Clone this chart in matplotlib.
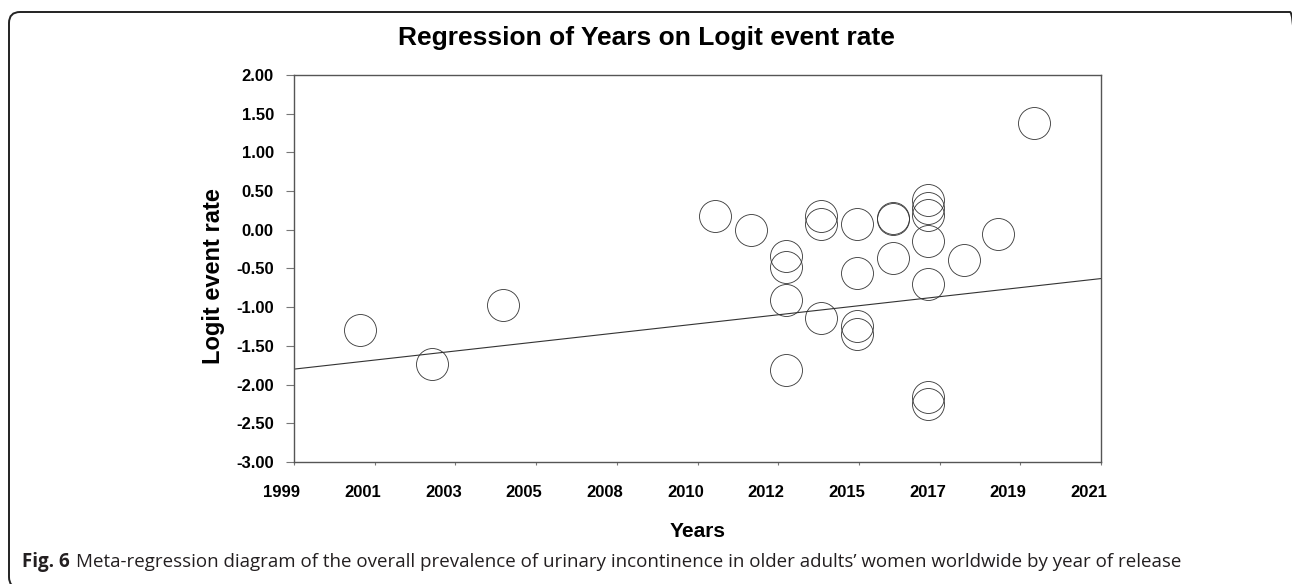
import numpy as np
import matplotlib
matplotlib.use("Agg")
import matplotlib.pyplot as plt
from matplotlib.patches import FancyBboxPatch
from matplotlib.transforms import IdentityTransform, ScaledTranslation

# study year (as placed on the axis) and logit event rate of each study
years = [2000.8, 2002.75, 2004.7, 2010.48, 2011.45,
         2012.41, 2012.41, 2012.41, 2012.41,
         2013.38, 2013.38, 2013.38,
         2014.36, 2014.36, 2014.36, 2014.36,
         2015.32, 2015.32, 2015.32,
         2016.29, 2016.29, 2016.29, 2016.29, 2016.29, 2016.29, 2016.29,
         2017.26, 2018.2, 2019.17]
logit = [-1.29, -1.74, -0.97, 0.18, 0.00,
         -0.34, -0.48, -0.91, -1.815,
         0.18, 0.07, -1.145,
         0.07, -0.56, -1.245, -1.34,
         0.15, 0.145, -0.37,
         0.385, 0.28, 0.19, -0.145, -0.70, -2.16, -2.255,
         -0.39, -0.055, 1.385]

# fitted meta-regression line
reg_x = [1999, 2021]
reg_y = [-1.80, -0.63]

x_ticks = np.linspace(1999, 2021, 11)
x_labels = ["1999", "2001", "2003", "2005", "2008", "2010",
            "2012", "2015", "2017", "2019", "2021"]
y_ticks = np.arange(-3.0, 2.01, 0.5)

plt.rcParams['font.family'] = ['Liberation Sans', 'DejaVu Sans']

fig = plt.figure(figsize=(12.92, 5.84), dpi=100)
ax = fig.add_axes([294 / 1292, 1 - 462 / 584, 807 / 1292, 387 / 584])

ax.plot(reg_x, reg_y, color="#333333", lw=0.8, zorder=2)
ax.plot(years, logit, ls="none", marker="o", ms=23, mfc="none",
        mec="#333333", mew=0.6, zorder=3)

ax.set_xlim(1999, 2021)
ax.set_ylim(-3.0, 2.0)
ax.set_xticks(x_ticks)
ax.set_xticklabels(x_labels)
ax.set_yticks(y_ticks)
ax.set_yticklabels([f"{v:.2f}" for v in y_ticks])

for sp in ax.spines.values():
    sp.set_color("#555555")
    sp.set_linewidth(1.0)

ax.tick_params(axis="y", direction="out", length=6, width=0.8,
               color="#777777", pad=8.5, labelsize=12)
ax.tick_params(axis="x", direction="out", length=2.5, width=0.8,
               color="#777777", pad=14, labelsize=12)
for lab in ax.get_xticklabels() + ax.get_yticklabels():
    lab.set_fontweight("bold")
for lab in ax.get_xticklabels():
    lab.set_transform(lab.get_transform() +
                      ScaledTranslation(-12 / 100, 0, fig.dpi_scale_trans))

ax.set_xlabel("Years", fontsize=15, fontweight="bold", labelpad=16)
ax.set_ylabel("Logit event rate", fontsize=17, fontweight="bold")
ax.yaxis.set_label_coords(-69 / 807, 0.48)

fig.text(0.5, 1 - 38 / 584, "Regression of Years on Logit event rate",
         ha="center", va="center", fontsize=19, fontweight="bold")

# caption
cap = fig.text(22 / 1292, 1 - 562 / 584, "Fig. 6", ha="left", va="center",
               fontsize=13.5, fontweight="bold", family="Open Sans",
               color="#231f20")
fig.canvas.draw()
bb = cap.get_window_extent()
fig.text((bb.x1 + 6) / 1292, 1 - 562 / 584,
         "Meta-regression diagram of the overall prevalence of urinary "
         "incontinence in older adults\u2019 women worldwide by year of release",
         ha="left", va="center", fontsize=13.5, family="Open Sans",
         color="#231f20")

# rounded frame around the figure panel
frame = FancyBboxPatch((9, -4), 1292, 580 - 4,
                       boxstyle="round,pad=0,rounding_size=11",
                       transform=IdentityTransform(), fill=False,
                       ec="#222222", lw=1.4)
fig.patches.append(frame)

fig.savefig("out.png", dpi=100)
